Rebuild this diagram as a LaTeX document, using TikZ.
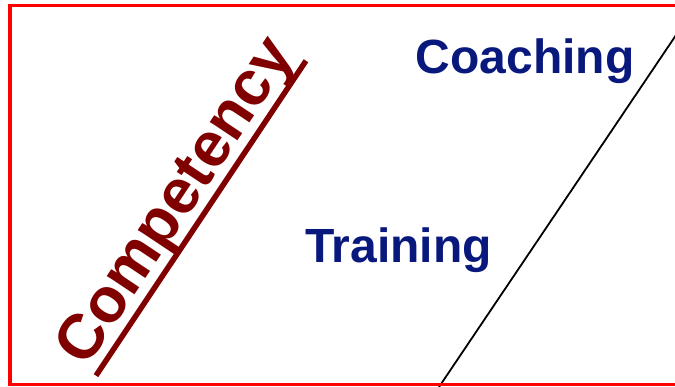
\documentclass[tikz,border=0pt]{standalone}
\usepackage{fontspec}
\setmainfont{Liberation Sans}
\usetikzlibrary{calc}
\definecolor{navytxt}{RGB}{8,24,124}
\definecolor{darkredtxt}{RGB}{128,0,0}
\definecolor{frame}{RGB}{255,0,0}
\tikzset{
  label48/.style={font=\fontsize{48}{48}\selectfont\bfseries, text=navytxt, inner sep=0pt, anchor=base west},
  comptext/.style={font=\fontsize{63}{63}\selectfont\bfseries, text=darkredtxt, inner sep=0pt, anchor=base west, rotate=56.3},
}
\begin{document}
\begin{tikzpicture}[x=1pt,y=1pt]
\useasboundingbox (0,0) rectangle (675,387);
\clip (0,0) rectangle (675,387);
% diagonal black line
\coordinate (lb) at (439,0);
\coordinate (lt) at ($(439,2)!1.05!(674,349)$);
\draw[line width=1.8pt, black] (lb) -- (lt);
% red frame
\draw[frame, line width=3.5pt] (700,381.5) -- (10,381.5) -- (10,2.5) -- (700,2.5);
% texts
\node[label48] (coach) at (415.5,313) {Coaching};
\node[label48] (train) at (305,124) {Training};
\node[comptext] (comp) at (86,18) {Competency};
\draw[darkredtxt, line width=5.5pt]
  ($(comp.base west)!12pt!-90:(comp.base east)$) --
  ($(comp.base east)!12pt!90:(comp.base west)$);
\end{tikzpicture}
\end{document}
